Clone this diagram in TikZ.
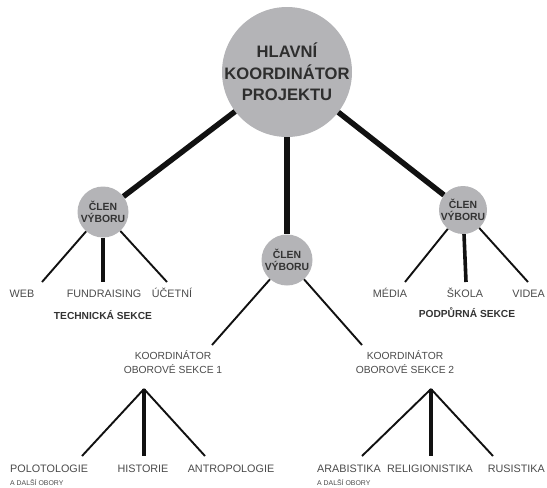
\documentclass[tikz,border=0pt]{standalone}
\usepackage{fontspec}
\setmainfont{Liberation Sans}
\definecolor{bubblegray}{HTML}{B4B4B7}
\definecolor{linecol}{HTML}{111111}
\definecolor{titlecol}{HTML}{2E2E2E}
\definecolor{leafcol}{HTML}{4A4A4A}
\definecolor{headcol}{HTML}{333333}
\begin{document}
\begin{tikzpicture}[x=1pt,y=-1pt,
  bubble/.style={circle, fill=bubblegray, draw=none, inner sep=0pt},
  thickline/.style={line width=5.5pt, draw=linecol},
  midline/.style={line width=3.6pt, draw=linecol},
  thinline/.style={line width=1.9pt, draw=linecol},
  leaf/.style={anchor=base, font=\fontsize{10.8}{12}\selectfont, text=leafcol, inner sep=0pt},
  small/.style={anchor=base west, font=\fontsize{6.9}{8}\selectfont, text=leafcol, inner sep=0pt},
  head/.style={anchor=base, font=\bfseries\fontsize{10.2}{12}\selectfont, text=headcol, inner sep=0pt},
  coord/.style={align=center, font=\fontsize{10.3}{14}\selectfont, text=leafcol, inner sep=0pt},
  membertext/.style={align=center, font=\bfseries\fontsize{10.4}{12}\selectfont, text=headcol, inner sep=0pt},
  titletext/.style={align=center, font=\bfseries\fontsize{16.6}{21.5}\selectfont, text=titlecol, inner sep=0pt}
]
\useasboundingbox (0,0) rectangle (547,488);
\clip (0,0) rectangle (547,488);

% circles
\node[bubble, minimum size=130pt] (main) at (287,72) {};
\node[bubble, minimum size=51pt] (m1) at (103,212) {};
\node[bubble, minimum size=51pt] (m2) at (287,260) {};
\node[bubble, minimum size=48pt] (m3) at (463,210) {};

% main connectors
\draw[thickline] (main) -- (m1);
\draw[thickline] (main) -- (m2);
\draw[thickline] (main) -- (m3);

% circle texts
\node[titletext] (maintext) at (main) {HLAVNÍ\\KOORDINÁTOR\\PROJEKTU};
\node[membertext] (m1text) at (m1) {ČLEN\\VÝBORU};
\node[membertext] (m2text) at (m2) {ČLEN\\VÝBORU};
\node[membertext] (m3text) at (m3) {ČLEN\\VÝBORU};

% line ends
\coordinate (eweb) at (42,282);
\coordinate (efund) at (103,282);
\coordinate (eucet) at (167,282);
\coordinate (emed) at (405,282);
\coordinate (eskol) at (466,282);
\coordinate (evid) at (528,282);
\coordinate (ek1) at (212,345);
\coordinate (ek2) at (362,345);
\coordinate (a1) at (144,389);
\coordinate (b1l) at (82,456);
\coordinate (b1m) at (144,456);
\coordinate (b1r) at (205,456);
\coordinate (a2) at (431,389);
\coordinate (b2l) at (362,456);
\coordinate (b2m) at (431,456);
\coordinate (b2r) at (493,456);

% member connectors
\draw[thinline] (m1) -- (eweb);
\draw[midline] (m1) -- (efund);
\draw[thinline] (m1) -- (eucet);
\draw[thinline] (m3) -- (emed);
\draw[midline] (m3) -- (eskol);
\draw[thinline] (m3) -- (evid);
\draw[thinline] (m2) -- (ek1);
\draw[thinline] (m2) -- (ek2);

% coordinator fans
\draw[thinline] (a1) -- (b1l);
\draw[midline] (a1) -- (b1m);
\draw[thinline] (a1) -- (b1r);
\draw[thinline] (a2) -- (b2l);
\draw[midline] (a2) -- (b2m);
\draw[thinline] (a2) -- (b2r);

% upper leaves
\node[leaf] (web) at (22,297) {WEB};
\node[leaf] (fund) at (104,297) {FUNDRAISING};
\node[leaf] (ucet) at (172,297) {ÚČETNÍ};
\node[head] (tech) at (103,319) {TECHNICKÁ SEKCE};
\node[leaf] (media) at (390,297) {MÉDIA};
\node[leaf] (skola) at (465,297) {ŠKOLA};
\node[leaf, anchor=base east] (videa) at (545,297) {VIDEA};
\node[head] (podp) at (467,317) {PODPŮRNÁ SEKCE};

% coordinators
\node[coord] (k1) at (173,362) {KOORDINÁTOR\\OBOROVÉ SEKCE 1};
\node[coord] (k2) at (405,362) {KOORDINÁTOR\\OBOROVÉ SEKCE 2};

% bottom leaves
\node[leaf, anchor=base west] (polo) at (10,472) {POLOTOLOGIE};
\node[small] (d1) at (10,485) {A DALŠÍ OBORY};
\node[leaf] (hist) at (143,472) {HISTORIE};
\node[leaf] (antro) at (231,472) {ANTROPOLOGIE};
\node[leaf, anchor=base west] (arab) at (317,472) {ARABISTIKA};
\node[small] (d2) at (317,485) {A DALŠÍ OBORY};
\node[leaf] (relig) at (430,472) {RELIGIONISTIKA};
\node[leaf, anchor=base east] (rusi) at (545,472) {RUSISTIKA};
\end{tikzpicture}
\end{document}
